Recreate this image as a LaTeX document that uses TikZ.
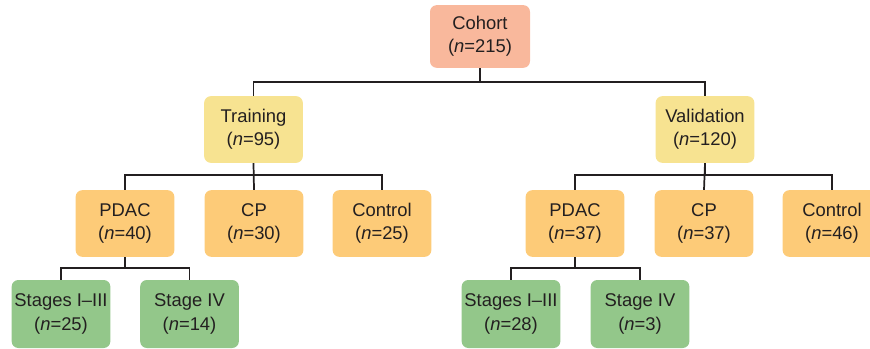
\documentclass[tikz,border=0pt]{standalone}
\usepackage{fontspec}
\setmainfont{Liberation Sans}
\usepackage{tikz}
\usetikzlibrary{calc,positioning}

\definecolor{cohortcol}{HTML}{F9B89C}
\definecolor{groupcol}{HTML}{F7E391}
\definecolor{classcol}{HTML}{FDCB78}
\definecolor{stagecol}{HTML}{93C78A}
\definecolor{linecol}{HTML}{231F20}

\tikzset{
    box/.style={rounded corners=5pt, minimum width=74pt, minimum height=50pt,
        align=center, inner sep=0pt, text=linecol,
        font=\fontsize{13.8}{17.5}\selectfont},
    cohortbox/.style={box, fill=cohortcol, minimum width=75pt, minimum height=47pt},
    groupbox/.style={box, fill=groupcol},
    classbox/.style={box, fill=classcol},
    stagebox/.style={box, fill=stagecol, minimum height=51pt},
    link/.style={draw=linecol, line width=1.3pt}
}

\begin{document}
\begin{tikzpicture}[x=0.75pt,y=-0.75pt]
            \useasboundingbox (0,0) rectangle (870,349);

            % top
            \node[cohortbox] (cohort) at (480,36.5) {Cohort\\(\textit{n}=215)};

            % training / validation
            \node[groupbox] (train) at (253.5,129.5) {Training\\(\textit{n}=95)};
            \node[groupbox] (valid) at (705,129.5) {Validation\\(\textit{n}=120)};

            % training branch
            \node[classbox] (tpdac) at (125,223.5) {PDAC\\(\textit{n}=40)};
            \node[classbox] (tcp) at (254,223.5) {CP\\(\textit{n}=30)};
            \node[classbox] (tctrl) at (382,223.5) {Control\\(\textit{n}=25)};

            % validation branch
            \node[classbox] (vpdac) at (575,223.5) {PDAC\\(\textit{n}=37)};
            \node[classbox] (vcp) at (704,223.5) {CP\\(\textit{n}=37)};
            \node[classbox] (vctrl) at (832,223.5) {Control\\(\textit{n}=46)};

            % stages
            \node[stagebox] (tearly) at (61,314) {Stages I–III\\(\textit{n}=25)};
            \node[stagebox] (tlate) at (189.5,314) {Stage IV\\(\textit{n}=14)};
            \node[stagebox] (vearly) at (511,314) {Stages I–III\\(\textit{n}=28)};
            \node[stagebox] (vlate) at (640,314) {Stage IV\\(\textit{n}=3)};

            \draw[link] (cohort.south) -- ++(0,14) -| (train.north);
            \draw[link] (cohort.south) ++(0,14) -| (valid.north);

            \draw[link] (train.south) -- ++(0,12) -| (tpdac.north);
            \draw[link] (train.south) -- (tcp.north);
            \draw[link] (train.south) ++(0,12) -| (tctrl.north);

            \draw[link] (valid.south) -- ++(0,12) -| (vpdac.north);
            \draw[link] (valid.south) -- (vcp.north);
            \draw[link] (valid.south) ++(0,12) -| (vctrl.north);

            \draw[link] (tpdac.south) -- ++(0,11) -| (tearly.north);
            \draw[link] (tpdac.south) ++(0,11) -| (tlate.north);
            \draw[link] (vpdac.south) -- ++(0,11) -| (vearly.north);
            \draw[link] (vpdac.south) ++(0,11) -| (vlate.north);
        \end{tikzpicture}
\end{document}
